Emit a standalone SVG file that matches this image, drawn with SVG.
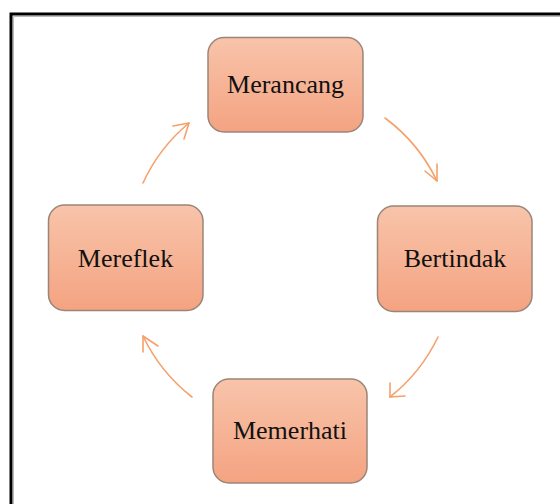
<svg xmlns="http://www.w3.org/2000/svg" width="560" height="504" viewBox="0 0 560 504">
<defs>
<linearGradient id="g" x1="0" y1="0" x2="0" y2="1">
<stop offset="0" stop-color="#F8C4AA"/>
<stop offset="1" stop-color="#F4A381"/>
</linearGradient>
<style>
.box{fill:url(#g);stroke:#9A8579;stroke-width:1.5}
.lbl{font-family:"Liberation Serif","Times New Roman",serif;font-size:26px;fill:#111;text-anchor:middle}
.arc{fill:none;stroke:#F5A16B;stroke-width:1.6;stroke-linecap:round;stroke-linejoin:round}
</style>
</defs>
<rect width="560" height="504" fill="#fff"/>
<path d="M11,504 V14 H560" fill="none" stroke="#000" stroke-width="3"/>
<path d="M13.5,504 V16.5 H560" fill="none" stroke="#bbb" stroke-width="1"/>
<g id="connectors">
<path class="arc" d="M385,118 A170,170 0 0 1 437,181"/>
<path class="arc" d="M425,171 L437,181 L437,164"/>
<path class="arc" d="M438,337 A170,170 0 0 1 390,397"/>
<path class="arc" d="M390,383 L390,397 L405,396"/>
<path class="arc" d="M192,397 A170,170 0 0 1 143,336"/>
<path class="arc" d="M158,346 L143,336 L143,352"/>
<path class="arc" d="M143,183 A170,170 0 0 1 189,123"/>
<path class="arc" d="M173,126 L189,123 L184,139"/>
</g>
<g id="merancang">
<rect class="box" x="208" y="37.5" width="155" height="94.5" rx="16"/>
<text class="lbl" x="285.5" y="93">Merancang</text>
</g>
<g id="bertindak">
<rect class="box" x="377.5" y="206" width="154.5" height="105.5" rx="16"/>
<text class="lbl" x="455" y="267">Bertindak</text>
</g>
<g id="memerhati">
<rect class="box" x="213" y="379" width="154" height="104" rx="16"/>
<text class="lbl" x="290" y="439">Memerhati</text>
</g>
<g id="mereflek">
<rect class="box" x="48.5" y="205" width="154.5" height="105.5" rx="16"/>
<text class="lbl" x="125.5" y="267">Mereflek</text>
</g>
</svg>
